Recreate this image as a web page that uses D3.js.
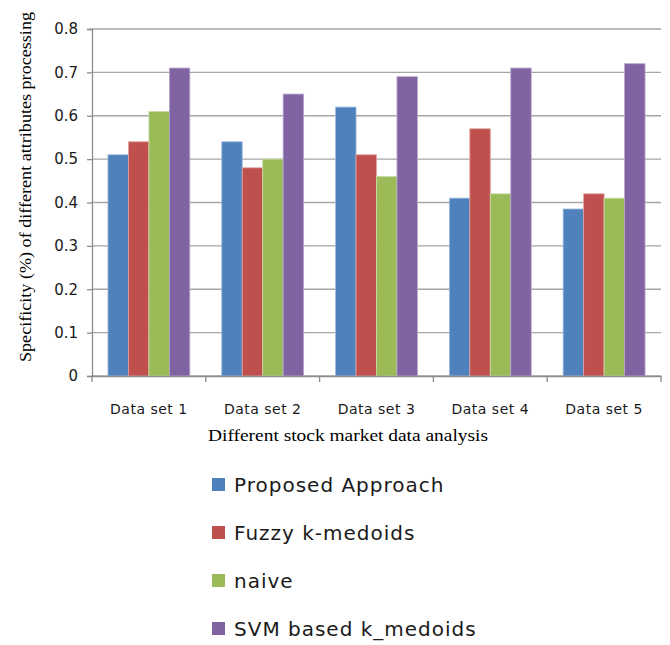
<!DOCTYPE html>
<html><head><meta charset="utf-8">
<script src="https://cdn.jsdelivr.net/npm/d3@7"></script>
<style>body{margin:0;background:#fff;} svg{display:block;}</style>
</head><body>
<svg id="chart" width="670" height="645"></svg>
<script>
const categories = ["Data set 1","Data set 2","Data set 3","Data set 4","Data set 5"];
const seriesNames = ["Proposed Approach","Fuzzy k-medoids","naive","SVM based k_medoids"];
const proposed = [0.51,0.54,0.62,0.41,0.385];
const fuzzy = [0.54,0.48,0.51,0.57,0.42];
const naive = [0.61,0.50,0.46,0.42,0.41];
const svm = [0.71,0.65,0.69,0.71,0.72];
const yTicks = [0,0.1,0.2,0.3,0.4,0.5,0.6,0.7,0.8];
const colors = ["#4F81BD","#C0504D","#9BBB59","#8064A2"];
const strokes = ["#9DB9DE","#E0A3A1","#C9DCA8","#B8A6CF"];
const series = [proposed,fuzzy,naive,svm];

const svg = d3.select("#chart");
const m = {l:92, r:661, t:29, b:376};
const x = d3.scaleBand().domain(categories).range([m.l,m.r]).paddingInner(0).paddingOuter(0);
const xs = d3.scaleBand().domain(d3.range(4)).range([0,x.bandwidth()]).paddingInner(0).paddingOuter(0.78);
const y = d3.scaleLinear().domain([0,0.8]).range([m.b,m.t]);

// gridlines
svg.append("g").selectAll("line").data(yTicks).join("line")
  .attr("x1",m.l).attr("x2",m.r).attr("y1",d=>y(d)).attr("y2",d=>y(d))
  .attr("stroke","#A6A6A6").attr("stroke-width",1.3);

// bars
categories.forEach((c,i)=>{
  const g = svg.append("g");
  series.forEach((s,j)=>{
    g.append("rect")
      .attr("x",x(c)+xs(j)).attr("width",xs.bandwidth())
      .attr("y",y(s[i])).attr("height",y(0)-y(s[i]))
      .attr("fill",colors[j]).attr("stroke",strokes[j]).attr("stroke-width",0.8);
  });
});

// y axis
const yAxis = d3.axisLeft(y).tickValues(yTicks).tickFormat(d=>d===0?"0":d3.format(".1f")(d)).tickSize(5).tickPadding(9);
const ya = svg.append("g").attr("transform",`translate(${m.l},0)`).call(yAxis);
ya.select(".domain").attr("stroke","#8C8C8C").attr("stroke-width",1.3);
ya.selectAll(".tick line").attr("stroke","#8C8C8C").attr("stroke-width",1.3);
ya.selectAll("text").attr("font-family","DejaVu Sans, Verdana, sans-serif").attr("font-size",15).attr("fill","#1a1a1a");

// x axis
const xAxis = d3.axisBottom(x).tickSize(0).tickPadding(28);
const xa = svg.append("g").attr("transform",`translate(0,${m.b})`).call(xAxis);
xa.select(".domain").attr("stroke","#8C8C8C").attr("stroke-width",1.3);
xa.selectAll("text").attr("font-family","DejaVu Sans, Verdana, sans-serif").attr("font-size",14)
  .attr("letter-spacing","0.5px").attr("fill","#1a1a1a");
// category boundary ticks
const bounds = categories.map(c=>x(c)).concat([m.r]);
svg.append("g").selectAll("line").data(bounds).join("line")
  .attr("x1",d=>d).attr("x2",d=>d).attr("y1",m.b).attr("y2",m.b+6)
  .attr("stroke","#8C8C8C").attr("stroke-width",1.3);

// axis titles
svg.append("text").attr("x",348).attr("y",441).attr("text-anchor","middle")
  .attr("font-family","Liberation Serif, Times New Roman, serif").attr("font-size",17)
  .attr("textLength",280).attr("lengthAdjust","spacingAndGlyphs")
  .text("Different stock market data analysis");
svg.append("text").attr("transform","translate(31,187) rotate(-90)").attr("text-anchor","middle")
  .attr("font-family","Liberation Serif, Times New Roman, serif").attr("font-size",17)
  .attr("textLength",350).attr("lengthAdjust","spacingAndGlyphs")
  .text("Specificity (%) of different attributes processing");

// legend
const lg = svg.append("g");
seriesNames.forEach((n,i)=>{
  const cy = 485 + i*48;
  lg.append("rect").attr("x",212).attr("y",cy-7).attr("width",13).attr("height",13).attr("fill",colors[i]);
  lg.append("text").attr("x",234).attr("y",cy+7).attr("font-family","DejaVu Sans, Verdana, sans-serif")
    .attr("font-size",20).attr("letter-spacing","1px").attr("fill","#1a1a1a").text(n);
});
</script>
</body></html>
